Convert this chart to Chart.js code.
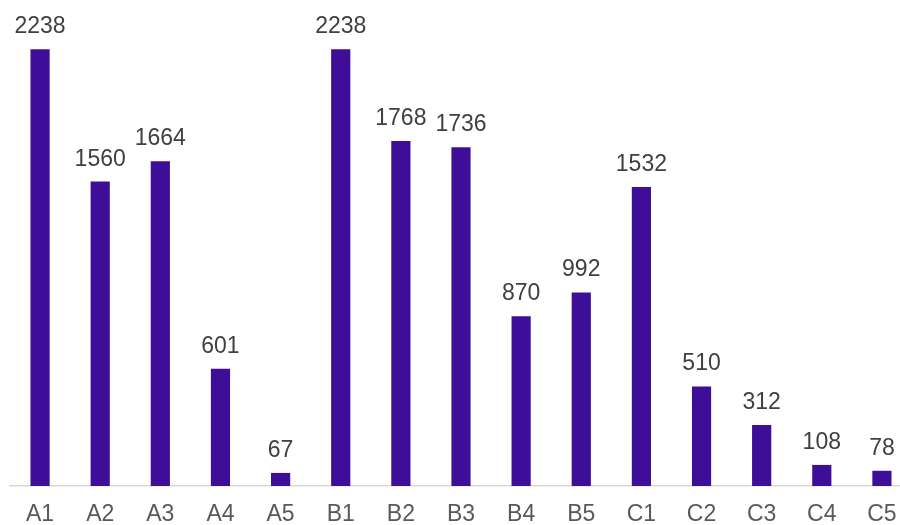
<!DOCTYPE html>
<html>
<head>
<meta charset="utf-8">
<script src="https://cdn.jsdelivr.net/npm/chart.js@4/dist/chart.umd.min.js"></script>
<style>
html,body{margin:0;padding:0;overflow:hidden;background:#fff;}
#wrap{position:absolute;left:0;top:0;width:912px;height:525px;}
</style>
</head>
<body>
<div id="wrap"><canvas id="c" width="912" height="525"></canvas></div>
<script>
const categories = ["A1","A2","A3","A4","A5","B1","B2","B3","B4","B5","C1","C2","C3","C4","C5"];
const values = [2238,1560,1664,601,67,2238,1768,1736,870,992,1532,510,312,108,78];
const barColor = "#3f0e98";

const labelPlugin = {
  id: "barLabels",
  afterDatasetsDraw(chart) {
    const ctx = chart.ctx;
    const meta = chart.getDatasetMeta(0);
    ctx.save();
    ctx.font = "23px 'Liberation Sans', Arial, sans-serif";
    ctx.fillStyle = "#404040";
    ctx.textAlign = "center";
    ctx.textBaseline = "alphabetic";
    meta.data.forEach((bar, i) => {
      ctx.fillText(String(values[i]), bar.x, bar.y - 16);
    });
    ctx.restore();
  }
};

new Chart(document.getElementById("c"), {
  type: "bar",
  data: {
    labels: categories,
    datasets: [{
      data: values,
      backgroundColor: barColor,
      borderWidth: 0,
      barPercentage: 0.55,
      categoryPercentage: 0.58
    }]
  },
  options: {
    responsive: false,
    animation: false,
    devicePixelRatio: 1,
    layout: { padding: { left: 10, right: 0, top: 0, bottom: 0 } },
    plugins: { legend: { display: false }, tooltip: { enabled: false } },
    scales: {
      x: {
        grid: { display: false, drawTicks: false },
        border: { display: true, color: "#d9d9d9", width: 1.5 },
        ticks: {
          color: "#595959",
          font: { family: "'Liberation Sans', Arial, sans-serif", size: 23 },
          padding: 15,
          maxRotation: 0,
          autoSkip: false
        },
        afterFit(scale) { scale.height = 39; }
      },
      y: {
        display: false,
        min: 0,
        max: 2490
      }
    }
  },
  plugins: [labelPlugin]
});
</script>
</body>
</html>
